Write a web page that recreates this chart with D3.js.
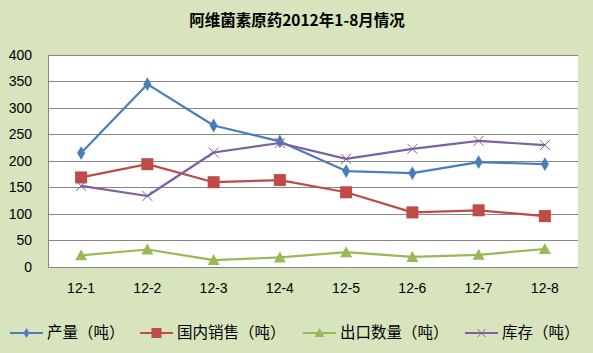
<!DOCTYPE html>
<html><head><meta charset="utf-8">
<script src="https://cdn.jsdelivr.net/npm/d3@7"></script>
<style>body{margin:0;background:#D7E4BD;}svg{display:block;}</style>
</head><body><svg id="c" width="593" height="353"></svg>
<script>
const categories = ["12-1","12-2","12-3","12-4","12-5","12-6","12-7","12-8"];
const seriesNames = ["产量（吨）","国内销售（吨）","出口数量（吨）","库存（吨）"];
const production = [215,345,267,237,181,177,198,194];
const domesticSales = [169,194,160,164,141,103,107,96];
const exportQty = [22,33,13,18,28,19,23,34];
const inventory = [153,134,216,234,204,223,238,230];
const yTicks = [0,50,100,150,200,250,300,350,400];
const colors = ["#4A7EBB","#BE4B48","#98B954","#7D60A0"];
const markers = ["diamond","square","triangle","x"];
const allSeries = [production, domesticSales, exportQty, inventory];

const svg = d3.select("#c");
svg.append("rect").attr("width",593).attr("height",353).attr("fill","#D7E4BD");
const L=48,R=578,T=55,B=267;
const x = d3.scaleBand().domain(categories).range([L,R]);
const y = d3.scaleLinear().domain([0,400]).range([B,T]);

svg.append("rect").attr("x",L).attr("y",T).attr("width",R-L).attr("height",B-T).attr("fill","#fff");
svg.append("text").attr("x",297).attr("y",26).attr("text-anchor","middle")
  .attr("font-family","'Noto Sans CJK SC'").attr("font-weight","bold").attr("font-size",15.5)
  .attr("fill","#000").text("阿维菌素原药2012年1-8月情况");

// grid
svg.append("g").selectAll("line").data(yTicks).join("line")
  .attr("x1",L).attr("x2",R).attr("y1",d=>y(d)).attr("y2",d=>y(d))
  .attr("stroke","#868686").attr("stroke-width",1).attr("shape-rendering","crispEdges");
svg.append("line").attr("x1",L).attr("x2",L).attr("y1",T).attr("y2",B)
  .attr("stroke","#868686").attr("shape-rendering","crispEdges");

const yAxis = d3.axisLeft(y).tickValues(yTicks).tickSize(0).tickPadding(0);
const gy = svg.append("g").attr("transform",`translate(${L-16},0)`).call(yAxis);
gy.select(".domain").remove();
gy.selectAll("text").attr("font-family","'Liberation Sans'").attr("font-size",14).attr("fill","#000");

const xAxis = d3.axisBottom(x).tickSize(0).tickPadding(0);
const gx = svg.append("g").attr("transform",`translate(0,${B+16})`).call(xAxis);
gx.select(".domain").remove();
gx.selectAll("text").attr("font-family","'Liberation Sans'").attr("font-size",14).attr("fill","#000");

function drawMarker(g, type, cx, cy, color){
  if(type==="diamond"){
    g.append("path").attr("d",d3.symbol(d3.symbolDiamond,55)()).attr("transform",`translate(${cx},${cy})`).attr("fill",color);
  } else if(type==="square"){
    g.append("rect").attr("x",cx-6).attr("y",cy-6).attr("width",12).attr("height",12).attr("fill",color);
  } else if(type==="triangle"){
    g.append("path").attr("d",`M${cx},${cy-6}L${cx+6},${cy+5}L${cx-6},${cy+5}Z`).attr("fill",color);
  } else {
    g.append("path").attr("d",`M${cx-5},${cy-5}L${cx+5},${cy+5}M${cx-5},${cy+5}L${cx+5},${cy-5}`).attr("stroke",color).attr("stroke-width",1);
  }
}

const line = d3.line().x((d,i)=>x(categories[i])+x.bandwidth()/2).y(d=>y(d));
allSeries.forEach((s,k)=>{
  const g = svg.append("g");
  g.append("path").attr("d",line(s)).attr("fill","none").attr("stroke",colors[k]).attr("stroke-width",2.2).attr("stroke-linejoin","round");
  s.forEach((v,i)=>drawMarker(g, markers[k], x(categories[i])+x.bandwidth()/2, y(v), colors[k]));
});

// legend
const legX = [10,140,303,465];
const legY = 333;
seriesNames.forEach((n,k)=>{
  const g = svg.append("g");
  g.append("line").attr("x1",legX[k]).attr("x2",legX[k]+33).attr("y1",legY).attr("y2",legY).attr("stroke",colors[k]).attr("stroke-width",2.2);
  const cx = legX[k]+16.5;
  if(markers[k]==="square"){
    g.append("rect").attr("x",cx-5).attr("y",legY-5).attr("width",10).attr("height",10).attr("fill",colors[k]);
  } else if(markers[k]==="diamond"){
    g.append("path").attr("d",d3.symbol(d3.symbolDiamond,30)()).attr("transform",`translate(${cx},${legY})`).attr("fill",colors[k]);
  } else if(markers[k]==="triangle"){
    g.append("path").attr("d",`M${cx},${legY-5}L${cx+5},${legY+4}L${cx-5},${legY+4}Z`).attr("fill",colors[k]);
  } else {
    g.append("path").attr("d",`M${cx-4},${legY-4}L${cx+4},${legY+4}M${cx-4},${legY+4}L${cx+4},${legY-4}`).attr("stroke",colors[k]).attr("stroke-width",1);
  }
  g.append("text").attr("x",legX[k]+37).attr("y",legY).attr("dy","0.35em")
    .attr("font-family","'Noto Sans CJK SC'").attr("font-size",15.5).attr("fill","#000").text(n);
});
</script></body></html>
